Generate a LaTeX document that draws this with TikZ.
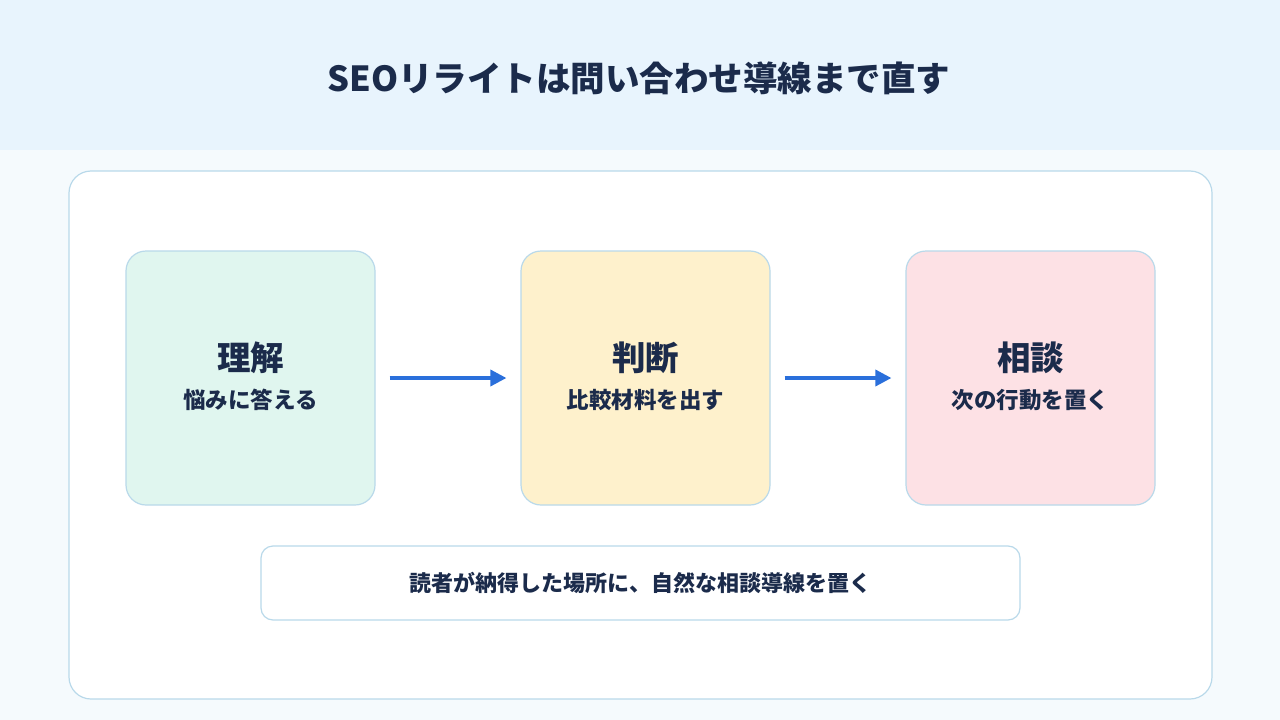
\documentclass[tikz,border=0pt]{standalone}
\usepackage{fontspec}
\setmainfont{Noto Sans CJK JP}
\usetikzlibrary{arrows.meta}
\definecolor{ink}{HTML}{1B2B4B}
\definecolor{band}{HTML}{E8F4FD}
\definecolor{paper}{HTML}{F5FAFD}
\definecolor{edge}{HTML}{B9D9EA}
\definecolor{flow}{HTML}{2A6FDB}
\definecolor{mint}{HTML}{E0F6EF}
\definecolor{cream}{HTML}{FEF1CC}
\definecolor{blush}{HTML}{FDE1E5}
\tikzset{
  stage/.style={draw=edge, line width=1.2pt, rounded corners=20pt, minimum width=249pt, minimum height=254pt},
  head/.style={text=ink, font=\fontsize{33.5}{36}\selectfont\bfseries},
  sub/.style={text=ink, font=\fontsize{22.5}{25}\selectfont\bfseries},
  flowarrow/.style={draw=flow, line width=3.5pt, -{Triangle[length=16pt,width=16pt]}}
}
\begin{document}
\begin{tikzpicture}[x=1pt,y=-1pt]

\fill[paper] (0,0) rectangle (1280,720);
\fill[band] (0,0) rectangle (1280,150);
\node[head, font=\fontsize{34.5}{38}\selectfont\bfseries] (title) at (639,78) {SEOリライトは問い合わせ導線まで直す};

\draw[edge, fill=white, line width=1.2pt, rounded corners=22pt] (69,171) rectangle (1212,699);

\node[stage, fill=mint] (understand) at (250.5,378) {};
\node[stage, fill=cream] (judge) at (645.5,378) {};
\node[stage, fill=blush] (consult) at (1030.5,378) {};

\node[head] at (250.5,358) {理解};
\node[sub] at (250.5,400) {悩みに答える};
\node[head] at (645.5,358) {判断};
\node[sub] at (645.5,400) {比較材料を出す};
\node[head] at (1030.5,358) {相談};
\node[sub] at (1030.5,400) {次の行動を置く};

\draw[flowarrow] ([xshift=14pt]understand.east) -- ([xshift=-14pt]judge.west);
\draw[flowarrow] ([xshift=14pt]judge.east) -- ([xshift=-14pt]consult.west);

\node[draw=edge, fill=white, line width=1.2pt, rounded corners=12pt, minimum width=759pt, minimum height=74pt, sub, font=\fontsize{22}{24}\selectfont\bfseries] (note) at (640.5,583) {読者が納得した場所に、自然な相談導線を置く};

\end{tikzpicture}
\end{document}
